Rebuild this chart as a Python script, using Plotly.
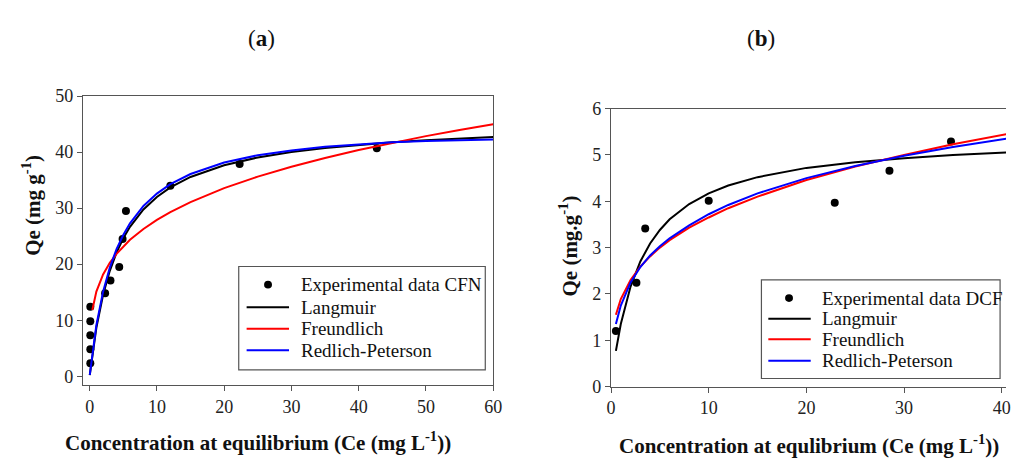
import plotly.graph_objects as go

# ---------------- Panel (a): CFN ----------------
exp_a_x = [0.1, 0.1, 0.1, 0.1, 0.1, 2.3, 3.1, 4.4, 4.9, 5.4, 12.0, 22.3, 42.7]
exp_a_y = [2.3, 4.8, 7.3, 9.8, 12.4, 14.8, 17.1, 19.5, 24.5, 29.5, 34.0, 37.9, 40.7]

curve_a_x = [0.02, 0.5, 1, 2, 3, 4, 5, 6, 8, 10, 12, 15, 20, 25, 30, 35, 40, 45, 50, 55, 60]
langmuir_a = [0.21, 4.77, 8.65, 14.54, 18.82, 22.07, 24.62, 26.67, 29.78, 32.01, 33.70,
              35.57, 37.67, 39.05, 40.02, 40.75, 41.32, 41.77, 42.13, 42.44, 42.70]
redlich_a = [0.25, 5.1, 9.1, 15.1, 19.4, 22.7, 25.2, 27.3, 30.4, 32.6, 34.3,
             36.1, 38.15, 39.45, 40.3, 40.95, 41.4, 41.75, 41.98, 42.15, 42.25]
freund_a_x = [0.4, 1, 2, 3, 4, 5, 6, 8, 10, 12, 15, 20, 25, 30, 35, 40, 45, 50, 55, 60]
freund_a = [11.83, 15.1, 18.17, 20.24, 21.85, 23.19, 24.35, 26.29, 27.91, 29.29, 31.09,
            33.57, 35.63, 37.40, 38.97, 40.39, 41.67, 42.86, 43.97, 45.0]

# ---------------- Panel (b): DCF ----------------
exp_b_x = [0.5, 2.6, 3.5, 10.0, 22.9, 28.5, 34.8]
exp_b_y = [1.2, 2.24, 3.41, 4.01, 3.97, 4.66, 5.29]

curve_b_x = [0.5, 1, 2, 3, 4, 5, 6, 8, 10, 12, 15, 20, 25, 30, 35, 40, 41]
langmuir_b = [0.77, 1.35, 2.16, 2.70, 3.09, 3.38, 3.61, 3.94, 4.17, 4.34, 4.52, 4.72, 4.84, 4.93, 5.00, 5.05, 5.06]
freund_b = [1.55, 1.89, 2.30, 2.59, 2.81, 3.00, 3.16, 3.43, 3.65, 3.85, 4.10, 4.46, 4.75, 5.00, 5.23, 5.43, 5.47]
redlich_b = [1.35, 1.75, 2.25, 2.58, 2.83, 3.03, 3.2, 3.48, 3.72, 3.92, 4.17, 4.5, 4.76, 4.98, 5.17, 5.34, 5.37]

series_names_a = ["Experimental data CFN", "Langmuir", "Freundlich", "Redlich-Peterson"]
series_names_b = ["Experimental data DCF", "Langmuir", "Freundlich", "Redlich-Peterson"]
series_colors = ["black", "black", "#ff0000", "#0000ff"]

FONT = "Liberation Serif"
AX = "#555555"
TXT = "#111111"
W, H = 1015, 466

fig = go.Figure()

def add_panel(xa, ya, names, ex, ey, cx, lang, fx, fr, rp):
    fig.add_trace(go.Scatter(x=ex, y=ey, mode="markers", name=names[0], showlegend=False,
                             marker=dict(color=series_colors[0], size=8), xaxis=xa, yaxis=ya))
    for nm, col, xs, ys in [(names[1], series_colors[1], cx, lang),
                            (names[2], series_colors[2], fx, fr),
                            (names[3], series_colors[3], cx, rp)]:
        fig.add_trace(go.Scatter(x=xs, y=ys, mode="lines", name=nm, showlegend=False,
                                 line=dict(color=col, width=2), xaxis=xa, yaxis=ya))

add_panel("x", "y", series_names_a, exp_a_x, exp_a_y, curve_a_x, langmuir_a, freund_a_x, freund_a, redlich_a)
add_panel("x2", "y2", series_names_b, exp_b_x, exp_b_y, curve_b_x, langmuir_b, curve_b_x, freund_b, redlich_b)

def px_x(p):
    return p / W

def px_y(p):
    return (H - p) / H

axis_common = dict(showline=True, linecolor=AX, linewidth=1.2, ticks="outside", ticklen=5,
                   tickcolor=AX, tickwidth=1.2, showgrid=False, zeroline=False,
                   tickfont=dict(family=FONT, size=18, color="#222"))

fig.update_layout(
    width=W, height=H, margin=dict(l=0, r=0, t=0, b=0),
    paper_bgcolor="white", plot_bgcolor="white",
    font=dict(family=FONT), showlegend=False,
    xaxis=dict(domain=[px_x(79), px_x(495)], range=[-1, 60], dtick=10, tick0=0,
               mirror=True, anchor="y", **axis_common),
    yaxis=dict(domain=[px_y(392), px_y(90)], range=[-1.6, 50], dtick=10, tick0=0,
               mirror=True, anchor="x", **axis_common),
    xaxis2=dict(domain=[px_x(614.5), 1.0], range=[0, 40.43], dtick=10, tick0=0,
                mirror=True, anchor="y2", **axis_common),
    yaxis2=dict(domain=[px_y(393.5), px_y(103)], range=[0, 6], dtick=1, tick0=0,
                mirror=False, anchor="x2", **axis_common),
)

# ---- legend boxes (drawn as paper-space shapes + text) ----
def legend_box(x0, y0, x1, y1, rows, mark_x, line_x0, line_x1, text_x, names):
    fig.add_shape(type="rect", xref="paper", yref="paper",
                  x0=px_x(x0), x1=px_x(x1), y0=px_y(y1), y1=px_y(y0),
                  line=dict(color=AX, width=1.2), fillcolor="white", layer="above")
    for i, (ry, nm, col) in enumerate(zip(rows, names, series_colors)):
        if i == 0:
            fig.add_shape(type="circle", xref="paper", yref="paper",
                          x0=px_x(mark_x - 4), x1=px_x(mark_x + 4),
                          y0=px_y(ry + 4), y1=px_y(ry - 4),
                          line=dict(width=0), fillcolor=col, layer="above")
        else:
            fig.add_shape(type="line", xref="paper", yref="paper",
                          x0=px_x(line_x0), x1=px_x(line_x1), y0=px_y(ry), y1=px_y(ry),
                          line=dict(color=col, width=2), layer="above")
        fig.add_annotation(xref="paper", yref="paper", showarrow=False,
                           x=px_x(text_x), y=px_y(ry), xanchor="left", yanchor="middle",
                           text=nm, font=dict(family=FONT, size=19, color=TXT))

legend_box(237, 268, 487, 376, [287, 310.5, 333, 355.5], 266.7, 245, 288, 298, series_names_a)
legend_box(767, 282, 1009, 385, [301, 322.5, 344, 366.5], 795, 774, 817, 826, series_names_b)

ann = [
    dict(text="(<b>a</b>)", x=px_x(260), y=px_y(30), font=dict(size=23)),
    dict(text="(<b>b</b>)", x=px_x(767), y=px_y(30), font=dict(size=23)),
    dict(text="<b>Concentration at equilibrium (Ce (mg L<sup>-1</sup>))</b>",
         x=px_x(257), y=px_y(451), font=dict(size=21)),
    dict(text="<b>Concentration at equlibrium (Ce (mg L<sup>-1</sup>))</b>",
         x=px_x(815), y=px_y(454), font=dict(size=21)),
    dict(text="<b>Qe (mg g<sup>-1</sup>)</b>", x=px_x(27), y=px_y(204),
         font=dict(size=21), textangle=-90),
    dict(text="<b>Qe (mg.g<sup>-1</sup>)</b>", x=px_x(571), y=px_y(247),
         font=dict(size=21), textangle=-90),
]
for a in ann:
    a["font"].update(family=FONT, color=TXT)
    fig.add_annotation(xref="paper", yref="paper", showarrow=False,
                       xanchor="center", yanchor="middle", **a)

fig.write_html("out.html")
